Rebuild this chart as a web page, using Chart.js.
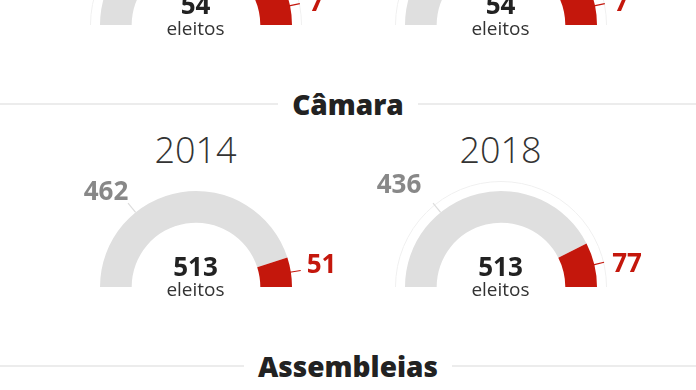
<!DOCTYPE html>
<html>
<head>
<meta charset="utf-8">
<script src="https://cdn.jsdelivr.net/npm/chart.js@4.4.1/dist/chart.umd.min.js"></script>
<style>
  html,body{margin:0;padding:0;background:#fff;}
  #stage{position:relative;width:696px;height:390px;overflow:hidden;font-family:"Open Sans",sans-serif;}
  .gw{position:absolute;}
  .t{position:absolute;white-space:nowrap;line-height:1;transform:translateX(-50%);}
  .head{position:absolute;left:0;width:696px;display:flex;align-items:center;}
  .head .ln{flex:1;height:2px;background:#ececec;}
  .head .tx{padding:0 14px;font-weight:800;font-size:28px;color:#222;line-height:1;}
</style>
</head>
<body>
<div id="stage"></div>
<script>
// ---- data ----
const sections = ['Câmara', 'Assembleias'];
const topYears = ['2010', '2018'];
const topTotal = [54, 54];
const topOthers = [47, 47];
const topWomen = [7, 7];
const camaraYears = ['2014', '2018'];
const camaraTotal = [513, 513];
const camaraOthers = [462, 436];
const camaraWomen = [51, 77];
const centerWord = 'eleitos';

const GRAY = '#dfdfdf', RED = '#c4170c';
const R = 96, PAD = 14;
const stage = document.getElementById('stage');

function text(str, cx, baseline, size, weight, color) {
  const d = document.createElement('div');
  d.className = 't';
  d.textContent = str;
  d.style.left = cx + 'px';
  d.style.top = (baseline - 0.888 * size) + 'px';
  d.style.fontSize = size + 'px';
  d.style.fontWeight = weight;
  d.style.color = color;
  stage.appendChild(d);
}

const leaderPlugin = {
  id: 'leaders',
  afterDatasetsDraw(chart, args, opts) {
    const arc = chart.getDatasetMeta(0).data;
    if (!arc.length) return;
    const cx = arc[0].x, cy = arc[0].y, ro = arc[0].outerRadius;
    const ctx = chart.ctx;
    ctx.save();
    if (opts.ring) {
      ctx.beginPath();
      ctx.strokeStyle = '#f0f0f0';
      ctx.lineWidth = 1;
      ctx.arc(cx, cy, ro + 9.5, Math.PI, 2 * Math.PI);
      ctx.stroke();
    }
    const red = arc[1];
    const mid = (red.startAngle + red.endAngle) / 2;
    ctx.beginPath();
    ctx.strokeStyle = RED;
    ctx.lineWidth = 1.2;
    ctx.moveTo(cx + Math.cos(mid) * (ro - 1), cy + Math.sin(mid) * (ro - 1));
    ctx.lineTo(cx + Math.cos(mid) * (ro + 10), cy + Math.sin(mid) * (ro + 10));
    ctx.stroke();
    const ga = -129 * Math.PI / 180;
    ctx.beginPath();
    ctx.strokeStyle = '#dcdcdc';
    ctx.lineWidth = 1.2;
    ctx.moveTo(cx + Math.cos(ga) * ro, cy + Math.sin(ga) * ro);
    ctx.lineTo(cx + Math.cos(ga) * (ro + 12), cy + Math.sin(ga) * (ro + 12));
    ctx.stroke();
    ctx.restore();
  }
};

function gauge(cx, cy, others, women, ring) {
  const w = document.createElement('div');
  w.className = 'gw';
  w.style.left = (cx - R - PAD) + 'px';
  w.style.top = (cy - R - PAD) + 'px';
  w.style.width = (2 * R + 2 * PAD) + 'px';
  w.style.height = (R + PAD) + 'px';
  const c = document.createElement('canvas');
  w.appendChild(c);
  stage.appendChild(w);
  new Chart(c, {
    type: 'doughnut',
    data: { labels: ['outros', 'mulheres'],
      datasets: [{ data: [others, women], backgroundColor: [GRAY, RED], borderWidth: 0 }] },
    options: {
      responsive: true, maintainAspectRatio: false, animation: false,
      rotation: -90, circumference: 180, cutout: '67%',
      layout: { padding: { left: PAD, right: PAD, top: PAD, bottom: 0 } },
      plugins: { legend: { display: false }, tooltip: { enabled: false }, leaders: { ring: ring } },
      events: []
    },
    plugins: [leaderPlugin]
  });
}

function heading(str, y) {
  const h = document.createElement('div');
  h.className = 'head';
  h.style.top = (y - 20) + 'px';
  h.style.height = '40px';
  h.innerHTML = '<div class="ln"></div><div class="tx"></div><div class="ln"></div>';
  h.querySelector('.tx').textContent = str;
  stage.appendChild(h);
}

// ---- top (partial) gauges ----
const topCx = [195.5, 500.5];
topCx.forEach((cx, i) => {
  gauge(cx, 25, topOthers[i], topWomen[i], true);
  text(String(topTotal[i]), cx, 14, 26, 700, '#222');
  text(centerWord, cx, 35.5, 19, 400, '#333');
  text(String(topWomen[i]), cx + 121, 11, 26, 700, RED);
});

heading(sections[0], 104);

// ---- Câmara gauges ----
const camCx = [195.5, 500.5];
const grayLabelX = [106, 399], grayLabelY = [200, 193];
const redLabelX = [321.5, 627], redLabelY = [273, 272.5];
camCx.forEach((cx, i) => {
  gauge(cx, 287, camaraOthers[i], camaraWomen[i], i === 1);
  text(camaraYears[i], cx, 164, 36, 300, '#333');
  text(String(camaraTotal[i]), cx, 276.5, 26, 700, '#222');
  text(centerWord, cx, 297, 19, 400, '#333');
  text(String(camaraOthers[i]), grayLabelX[i], grayLabelY[i], 26, 700, '#888');
  text(String(camaraWomen[i]), redLabelX[i], redLabelY[i], 26, 700, RED);
});

heading(sections[1], 366);
</script>
</body>
</html>
